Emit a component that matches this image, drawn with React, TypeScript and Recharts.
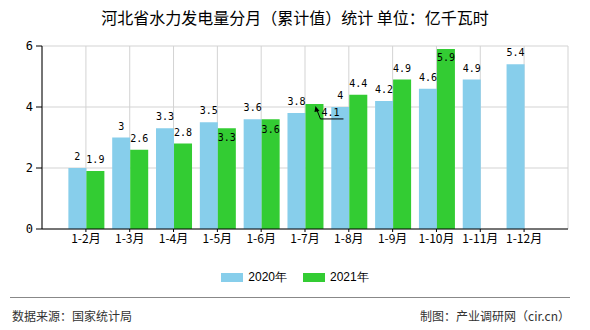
import React from "react";
import {
  BarChart,
  Bar,
  XAxis,
  YAxis,
  CartesianGrid,
  LabelList,
} from "recharts";

const categories = ["1-2月", "1-3月", "1-4月", "1-5月", "1-6月", "1-7月", "1-8月", "1-9月", "1-10月", "1-11月", "1-12月"];
const values2020 = [2, 3, 3.3, 3.5, 3.6, 3.8, 4, 4.2, 4.6, 4.9, 5.4];
const values2021: (number | null)[] = [1.9, 2.6, 2.8, 3.3, 3.6, 4.1, 4.4, 4.9, 5.9, null, null];
const yTicks = [0, 2, 4, 6];

const COLOR_2020 = "#87CEEB";
const COLOR_2021 = "#33CC33";
const CJK = "'Noto Sans CJK SC', 'Noto Sans', sans-serif";
const MONO = "'DejaVu Sans Mono', 'Liberation Mono', monospace";

// label tweaks for the 2021 series (the source chart pushes a few labels into the bar)
const drop2021: Record<number, number> = { 3: 21, 4: 22, 8: 20 };
const calloutIndex = 5;

const data = categories.map((name, i) => ({
  name,
  y2020: values2020[i],
  y2021: values2021[i],
}));

function makeLabel(series: "2020" | "2021") {
  return (props: any) => {
    const { x, y, width, value, index } = props;
    if (value === null || value === undefined) return null;
    const cx = Number(x) + Number(width) / 2;
    const top = Number(y);
    if (series === "2021" && index === calloutIndex) {
      return (
        <g>
          <polyline
            points={`${cx + 6},${top + 15} ${cx + 29},${top + 15}`}
            fill="none"
            stroke="#000"
            strokeWidth={1}
          />
          <line x1={cx + 6} y1={top + 15} x2={cx + 2} y2={top + 5} stroke="#000" strokeWidth={1} />
          <polygon points={`${cx + 1},${top + 2} ${cx + 5},${top + 7} ${cx},${top + 8}`} fill="#000" />
          <text x={cx + 16} y={top + 12} textAnchor="middle" fontSize={10} fontFamily={MONO} fill="#000">
            {value}
          </text>
        </g>
      );
    }
    const shift = series === "2021" ? drop2021[index] || 0 : 0;
    return (
      <text x={cx} y={top - 8 + shift} textAnchor="middle" fontSize={10} fontFamily={MONO} fill="#000">
        {value}
      </text>
    );
  };
}

export default function App() {
  return (
    <div
      style={{
        position: "absolute",
        left: 0,
        top: 0,
        width: 590,
        height: 330,
        background: "#fff",
        fontFamily: CJK,
      }}
    >
      <style>{`body{margin:0}`}</style>

      {/* Title */}
      <div
        style={{
          position: "absolute",
          top: 7,
          left: 0,
          width: 590,
          textAlign: "center",
          fontSize: 16,
          lineHeight: "20px",
          color: "#000",
        }}
      >
        河北省水力发电量分月（累计值）统计 单位：亿千瓦时
      </div>

      <div style={{ position: "absolute", left: 0, top: 0 }}>
        <BarChart
          width={590}
          height={330}
          data={data}
          margin={{ top: 46, right: 22, left: 2, bottom: 71 }}
          barCategoryGap="10%"
          barGap={0}
        >
          <CartesianGrid stroke="#d3d3d3" />
          <XAxis
            dataKey="name"
            interval={0}
            padding={{ left: 22, right: 22 }}
            height={30}
            axisLine={{ stroke: "#000" }}
            tickLine={{ stroke: "#000" }}
            tickSize={3}
            tick={{ fontSize: 12, fill: "#000", fontFamily: CJK }}
          />
          <YAxis
            domain={[0, 6]}
            ticks={yTicks}
            width={40}
            axisLine={{ stroke: "#000" }}
            tickLine={{ stroke: "#000" }}
            tickSize={6}
            tickMargin={3}
            tick={{ fontSize: 12, fill: "#000", fontFamily: MONO }}
          />
          <YAxis
            yAxisId="right"
            orientation="right"
            width={0}
            tick={false}
            tickLine={false}
            axisLine={{ stroke: "#d3d3d3" }}
          />
          <Bar dataKey="y2020" fill={COLOR_2020} isAnimationActive={false}>
            <LabelList dataKey="y2020" content={makeLabel("2020")} />
          </Bar>
          <Bar dataKey="y2021" fill={COLOR_2021} isAnimationActive={false}>
            <LabelList dataKey="y2021" content={makeLabel("2021")} />
          </Bar>
        </BarChart>
      </div>

      {/* Legend */}
      <div
        style={{
          position: "absolute",
          top: 269,
          left: 0,
          width: 590,
          display: "flex",
          justifyContent: "center",
          alignItems: "center",
          fontSize: 12,
          lineHeight: "16px",
          fontFamily: "'Liberation Sans', Arial, sans-serif",
          color: "#000",
        }}
      >
        <span style={{ display: "inline-block", width: 22, height: 9, background: COLOR_2020, marginRight: 5 }} />
        <span style={{ marginRight: 16 }}>2020年</span>
        <span style={{ display: "inline-block", width: 22, height: 9, background: COLOR_2021, marginRight: 5 }} />
        <span>2021年</span>
      </div>

      {/* Footer */}
      <div style={{ position: "absolute", top: 297, left: 10, width: 560, height: 1, background: "#888" }} />
      <div
        style={{
          position: "absolute",
          top: 308,
          left: 12,
          fontSize: 12,
          lineHeight: "16px",
          color: "#333",
        }}
      >
        数据来源：国家统计局
      </div>
      <div
        style={{
          position: "absolute",
          top: 308,
          right: 20,
          fontSize: 12,
          lineHeight: "16px",
          color: "#333",
        }}
      >
        制图：产业调研网（cir.cn）
      </div>
    </div>
  );
}
